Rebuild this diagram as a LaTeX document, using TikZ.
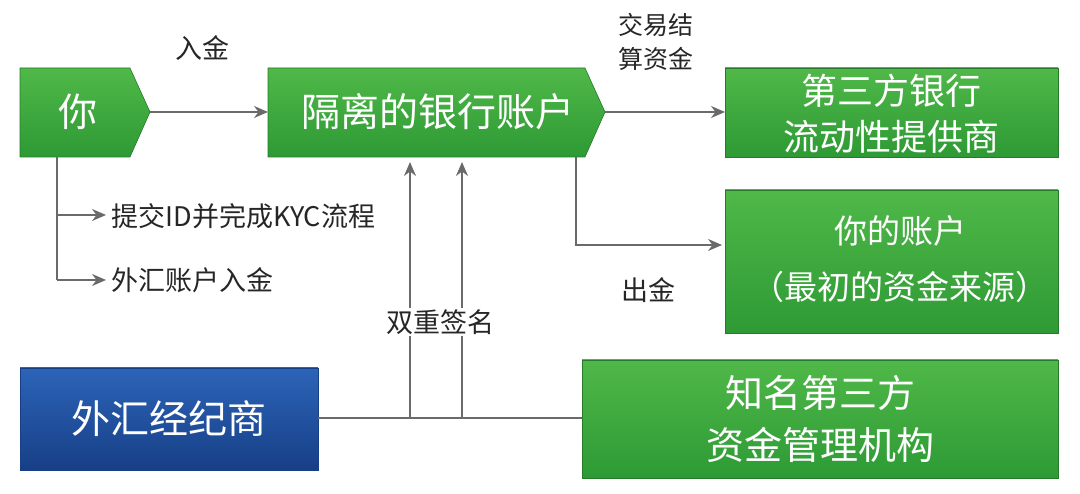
\documentclass[tikz,border=0pt]{standalone}
\usepackage{fontspec}
\newfontfamily\cjk{Noto Sans CJK SC}
\usetikzlibrary{arrows.meta}
\definecolor{gtop}{HTML}{4FB848}
\definecolor{gbot}{HTML}{2E9A35}
\definecolor{btop}{HTML}{2C64B8}
\definecolor{bbot}{HTML}{173F86}
\definecolor{ln}{HTML}{6A6A6A}
\tikzset{
 gbox/.style={top color=gtop,bottom color=gbot,draw=gbot!80!black,line width=0.6pt},
 bbox/.style={top color=btop,bottom color=bbot,draw=bbot,line width=0.6pt},
 wt/.style={text=white,font=\cjk\fontsize{39}{46}\selectfont,align=center},
 lab/.style={text=black!85,font=\cjk\fontsize{27}{34}\selectfont,align=center},
 con/.style={draw=ln,line width=1.8pt},
 arr/.style={con,-{Stealth[length=14pt,width=12pt]}}
}
\begin{document}
\begin{tikzpicture}[x=1pt,y=-1pt]
\useasboundingbox (0,0) rectangle (1080,494);
% boxes
\path[gbox] (20,68) -- (130,68) -- (150,112) -- (130,157) -- (20,157) -- cycle;
\node[wt] (you) at (78,112) {你};
\coordinate (youE) at (150,112);
\path[gbox] (268,68) -- (585,68) -- (605,112) -- (585,157) -- (268,157) -- cycle;
\node[wt] (iso) at (438,112) {隔离的银行账户};
\coordinate (isoE) at (605,112);
\coordinate (isoW) at (268,112);
\path[gbox] (725,68) rectangle (1058,157);
\node[wt,font=\cjk\fontsize{36}{46}\selectfont] (lp) at (891,114) {第三方银行\\流动性提供商};
\coordinate (lpW) at (725,112);
\path[gbox] (725,190) rectangle (1058,333);
\node[wt,font=\cjk\fontsize{33}{56}\selectfont] (acc) at (900,259) {你的账户\\（最初的资金来源）};
\coordinate (accW) at (722,245);
\path[bbox] (20,368) rectangle (318,470);
\node[wt] (fx) at (169,419) {外汇经纪商};
\path[gbox] (582,360) rectangle (1058,478);
\node[wt,font=\cjk\fontsize{38}{52}\selectfont] (fm) at (820,419) {知名第三方\\资金管理机构};
% connectors
\draw[arr] (youE) -- (isoW);
\node[lab] (l1) at (202,48) {入金};
\draw[arr] (isoE) -- (lpW);
\node[lab,font=\cjk\fontsize{25}{34}\selectfont] (l2) at (656,42) {交易结\\算资金};
\coordinate (d1) at (576,157);
\coordinate (d2) at (576,245);
\draw[arr] (d1) -- (d2) -- (accW);
\node[lab] (l3) at (648,290) {出金};
\coordinate (fxE) at (318,418);
\coordinate (fmW) at (582,418);
\draw[con] (fxE) -- (fmW);
\coordinate (v1b) at (410,418);\coordinate (v1t) at (410,162);
\coordinate (v2b) at (462,418);\coordinate (v2t) at (462,162);
\draw[arr] (v1b) -- (v1t);
\draw[arr] (v2b) -- (v2t);
\node[lab,fill=white,inner sep=1pt] (l4) at (440,322) {双重签名};
\coordinate (y0) at (57,157);
\coordinate (y1) at (57,215);
\coordinate (y2) at (57,280);
\coordinate (y1e) at (106,215);
\coordinate (y2e) at (106,280);
\draw[con] (y0) -- (y2);
\draw[arr] (y1) -- (y1e);
\draw[arr] (y2) -- (y2e);
\node[lab,anchor=west] (l5) at (108,216) {提交ID并完成KYC流程};
\node[lab,anchor=west] (l6) at (108,280) {外汇账户入金};
\end{tikzpicture}
\end{document}
